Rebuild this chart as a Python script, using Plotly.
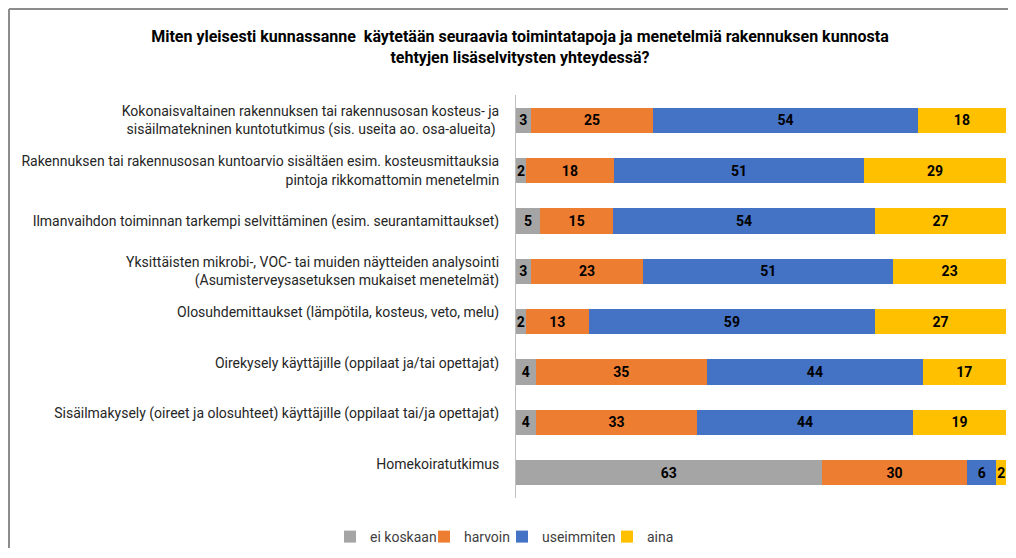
import plotly.graph_objects as go

categories = [
    "Kokonaisvaltainen rakennuksen tai rakennusosan kosteus- ja<br>sisäilmatekninen kuntotutkimus (sis. useita ao. osa-alueita) ",
    "Rakennuksen tai rakennusosan kuntoarvio sisältäen esim. kosteusmittauksia<br>pintoja rikkomattomin menetelmin",
    "Ilmanvaihdon toiminnan tarkempi selvittäminen (esim. seurantamittaukset)",
    "Yksittäisten mikrobi-, VOC- tai muiden näytteiden analysointi<br>(Asumisterveysasetuksen mukaiset menetelmät)",
    "Olosuhdemittaukset (lämpötila, kosteus, veto, melu)<br> ",
    "Oirekysely käyttäjille (oppilaat ja/tai opettajat)<br> ",
    "Sisäilmakysely (oireet ja olosuhteet) käyttäjille (oppilaat tai/ja opettajat)<br> ",
    "Homekoiratutkimus<br> ",
]
series = ["ei koskaan", "harvoin", "useimmiten", "aina"]
ei_koskaan = [3, 2, 5, 3, 2, 4, 4, 63]
harvoin = [25, 18, 15, 23, 13, 35, 33, 30]
useimmiten = [54, 51, 54, 51, 59, 44, 44, 6]
aina = [18, 29, 27, 23, 27, 17, 19, 2]

colors = ["#A5A5A5", "#ED7D31", "#4472C4", "#FFC000"]
font = "Roboto, Liberation Sans, sans-serif"

# page body has an 8px margin, so the figure sits 8px in from the window edge
W, H = 1000, 540
ml, mr, mt, mb = 508, 2, 87, 50

legend_ids = ["legend2", "legend3", "legend4", "legend5"]
legend_text_x = [362, 456, 534, 639]  # where each legend label starts (figure px)

fig = go.Figure()
for name, vals, col, lg in zip(series, [ei_koskaan, harvoin, useimmiten, aina], colors, legend_ids):
    fig.add_trace(go.Bar(
        y=categories, x=vals, name=name, orientation="h", legend=lg,
        marker=dict(color=col, line=dict(width=0)),
        text=[str(v) for v in vals], textposition="inside",
        insidetextanchor="middle", constraintext="none",
        textfont=dict(family=font, size=14, color="#000000", weight="bold"),
    ))

legends = {}
for lg, tx in zip(legend_ids, legend_text_x):
    legends[lg] = dict(
        orientation="h", x=(tx - 40) / W, xref="container", xanchor="left",
        y=1 - 529 / H, yref="container", yanchor="middle",
        font=dict(family=font, size=14, color="#404040"),
        itemwidth=30, bgcolor="rgba(0,0,0,0)",
    )

fig.update_layout(
    width=W, height=H,
    barmode="stack", barnorm="percent", bargap=0.5,
    margin=dict(l=ml, r=mr, t=mt, b=mb),
    plot_bgcolor="white", paper_bgcolor="white",
    font=dict(family=font, size=14, color="#262626"),
    uniformtext=dict(minsize=14, mode="show"),
    title=dict(
        text="<b>Miten yleisesti kunnassanne  käytetään seuraavia toimintatapoja ja menetelmiä rakennuksen kunnosta<br>tehtyjen lisäselvitysten yhteydessä?</b>",
        x=512 / W, xref="container", xanchor="center",
        y=1 - 34 / H, yref="container", yanchor="middle",
        font=dict(family=font, size=16, color="#000000"),
    ),
    xaxis=dict(visible=False, range=[0, 100]),
    yaxis=dict(
        autorange="reversed", showgrid=False, showline=True,
        linecolor="#BFBFBF", linewidth=1, ticks="", ticklabelstandoff=13,
        tickfont=dict(family=font, size=14, color="#262626"),
    ),
    **legends,
)

# outer chart frame (top and left edges visible), kept inside the figure
pw, ph = W - ml - mr, H - mt - mb
fx = (1 - ml) / pw
fy = (H - mb - 1) / ph
fig.add_shape(type="line", xref="paper", yref="paper", x0=fx, x1=(W - ml) / pw,
              y0=fy, y1=fy, line=dict(color="#8C8C8C", width=2))
fig.add_shape(type="line", xref="paper", yref="paper", x0=fx, x1=fx,
              y0=fy, y1=-mb / ph, line=dict(color="#8C8C8C", width=2))

fig.write_html("out.html")
